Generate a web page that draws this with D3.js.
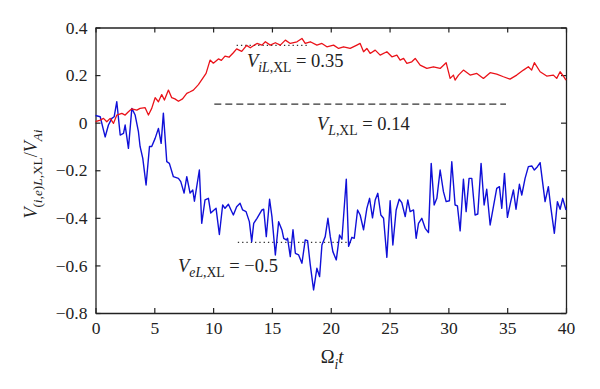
<!DOCTYPE html>
<html>
<head>
<meta charset="utf-8">
<script src="https://cdn.jsdelivr.net/npm/d3@7"></script>
<style>
  html, body { margin: 0; padding: 0; background: #fff; }
  svg { display: block; }
</style>
</head>
<body>
<svg id="chart" width="600" height="389"></svg>
<script>
// ---- data ----
const xTicks = [0, 5, 10, 15, 20, 25, 30, 35, 40];
const yTicks = [0.4, 0.2, 0, -0.2, -0.4, -0.6, -0.8];

const redTime = [0, 0.4, 0.68, 0.96, 1.25, 1.53, 1.81, 2.24, 2.52, 2.8,
  3.09, 3.51, 3.79, 4.22, 4.5, 4.78, 5.07, 5.35, 5.63, 5.86,
  6.2, 6.48, 6.75, 7.05, 7.4, 7.76, 8.05, 8.32, 8.75, 9.17,
  9.4, 9.74, 10.02, 10.45, 10.7, 11.01, 11.35, 11.72, 12.0, 12.43,
  12.85, 13.16, 13.73, 14.15, 14.44, 14.86, 15.29, 15.71, 16.14, 16.56,
  17.13, 17.55, 17.83, 18.26, 18.82, 19.25, 19.67, 20.24, 20.67, 21.09,
  21.65, 22.22, 22.5, 22.79, 23.07, 23.35, 23.78, 24.2, 24.77, 25.2,
  25.62, 25.9, 26.19, 26.47, 26.89, 27.18, 27.6, 28.17, 28.73, 29.3,
  29.81, 30.15, 30.43, 30.57, 30.86, 31.28, 31.85, 32.42, 32.98, 33.55,
  34.11, 34.68, 35.24, 35.81, 36.38, 36.8, 37.08, 37.31, 37.8, 38.36,
  38.93, 39.21, 39.5, 39.78, 40];
const redValue = [0.004, 0.011, 0.018, 0.004, 0.018, -0.003, 0.032, 0.039, 0.032, 0.046,
  0.058, 0.053, 0.06, 0.063, 0.032, 0.06, 0.105, 0.088, 0.118, 0.095,
  0.137, 0.105, 0.1, 0.09, 0.1, 0.123, 0.13, 0.137, 0.16, 0.19,
  0.207, 0.263, 0.25, 0.268, 0.262, 0.28, 0.275, 0.294, 0.31, 0.3,
  0.325, 0.315, 0.333, 0.326, 0.34, 0.326, 0.336, 0.326, 0.347, 0.333,
  0.34, 0.354, 0.333, 0.34, 0.326, 0.333, 0.319, 0.326, 0.312, 0.319,
  0.312, 0.326, 0.333, 0.298, 0.312, 0.291, 0.305, 0.284, 0.298, 0.277,
  0.284, 0.263, 0.27, 0.249, 0.256, 0.27, 0.242, 0.228, 0.235, 0.228,
  0.252, 0.186, 0.2, 0.179, 0.2, 0.221, 0.2, 0.207, 0.186, 0.21,
  0.204, 0.193, 0.183, 0.2, 0.221, 0.235, 0.221, 0.252, 0.214, 0.196,
  0.2, 0.186, 0.214, 0.196, 0.179];

const blueTime = [0, 0.4, 0.82, 1.1, 1.39, 1.59, 1.81, 2.1, 2.38, 2.52,
  2.8, 3.09, 3.37, 3.65, 3.79, 4.02, 4.3, 4.59, 4.78, 5.07,
  5.35, 5.58, 5.77, 6.06, 6.28, 6.62, 7.05, 7.25, 7.53, 7.76,
  8.04, 8.27, 8.41, 8.83, 9.03, 9.31, 9.6, 9.8, 10.08, 10.25,
  10.53, 10.81, 11.01, 11.3, 11.52, 11.72, 12.0, 12.29, 12.51, 12.8,
  13.08, 13.28, 13.45, 13.73, 14.15, 14.3, 14.52, 14.8, 15.0, 15.29,
  15.57, 15.85, 16.0, 16.22, 16.33, 16.56, 16.79, 16.99, 17.27, 17.55,
  17.83, 18.03, 18.26, 18.54, 18.82, 19.05, 19.25, 19.53, 19.76, 19.96,
  20.18, 20.47, 20.75, 20.95, 21.32, 21.52, 21.8, 22.0, 22.28, 22.5,
  22.79, 23.07, 23.3, 23.55, 23.78, 24.0, 24.26, 24.49, 24.77, 25.05,
  25.28, 25.56, 25.82, 26.04, 26.33, 26.55, 26.75, 27.04, 27.26, 27.46,
  27.74, 28.03, 28.31, 28.54, 28.79, 29.02, 29.3, 29.58, 29.81, 30.09,
  30.29, 30.57, 30.77, 31.0, 31.28, 31.51, 31.76, 31.99, 32.27, 32.5,
  32.78, 33.04, 33.26, 33.55, 33.83, 34.11, 34.34, 34.54, 34.77, 35.02,
  35.3, 35.53, 35.75, 36.04, 36.24, 36.52, 36.8, 37.09, 37.31, 37.57,
  37.8, 38.22, 38.5, 38.7, 39.01, 39.27, 39.5, 39.72, 40.0];
const blueValue = [0.03, 0.025, -0.06, -0.01, 0.018, 0.025, 0.088, -0.052, -0.045, -0.01,
  -0.108, 0.06, 0.032, -0.038, -0.1, -0.15, -0.262, -0.1, -0.1, -0.066,
  -0.024, -0.087, 0.04, -0.164, -0.171, -0.227, -0.234, -0.248, -0.296, -0.227,
  -0.296, -0.283, -0.33, -0.199, -0.423, -0.325, -0.318, -0.38, -0.367, -0.36,
  -0.47, -0.346, -0.36, -0.343, -0.367, -0.388, -0.353, -0.339, -0.367, -0.374,
  -0.416, -0.5, -0.423, -0.402, -0.367, -0.364, -0.479, -0.322, -0.395, -0.556,
  -0.416, -0.451, -0.486, -0.493, -0.486, -0.563, -0.45, -0.549, -0.556, -0.591,
  -0.493, -0.496, -0.598, -0.703, -0.612, -0.647, -0.514, -0.479, -0.402, -0.479,
  -0.542, -0.577, -0.472, -0.49, -0.238, -0.52, -0.482, -0.486, -0.367, -0.388,
  -0.45, -0.36, -0.318, -0.4, -0.325, -0.297, -0.388, -0.402, -0.566, -0.328,
  -0.514, -0.367, -0.322, -0.336, -0.395, -0.325, -0.374, -0.367, -0.486, -0.423,
  -0.402, -0.444, -0.462, -0.171, -0.346, -0.318, -0.199, -0.29, -0.332, -0.328,
  -0.164, -0.346, -0.35, -0.455, -0.238, -0.374, -0.234, -0.234, -0.388, -0.384,
  -0.171, -0.346, -0.28, -0.43, -0.353, -0.276, -0.269, -0.36, -0.213, -0.398,
  -0.332, -0.283, -0.364, -0.259, -0.304, -0.234, -0.185, -0.182, -0.199, -0.185,
  -0.168, -0.332, -0.269, -0.353, -0.465, -0.332, -0.364, -0.318, -0.367];

// reference levels
const ionLevel = { y: 0.325, from: 12.0, to: 18.2 };
const meanLevel = { y: 0.078, from: 10.1, to: 34.9 };
const eleLevel = { y: -0.503, from: 12.1, to: 21.8 };

// ---- drawing ----
const FONT = "'Liberation Serif', 'Times New Roman', serif";
const svg = d3.select("#chart");
const x = d3.scaleLinear().domain([0, 40]).range([95.5, 566]);
const y = d3.scaleLinear().domain([-0.8, 0.4]).range([313, 27.5]);
const axisColor = "#222";
const fs = 17.5;

const fmt = d => d === 0 ? "0" : d3.format(".1f")(d);

function styleAxis(g) {
  g.attr("font-family", null).attr("font-size", null);
  g.selectAll("path.domain").attr("stroke", axisColor).attr("stroke-width", 1.3);
  g.selectAll(".tick line").attr("stroke", axisColor).attr("stroke-width", 1.2);
  g.selectAll(".tick text").style("font-family", FONT).style("font-size", fs + "px")
    .attr("fill", axisColor);
}

svg.append("g").attr("transform", `translate(0,${y(-0.8)})`)
  .call(d3.axisBottom(x).tickValues(xTicks).tickSize(-5).tickSizeOuter(0).tickPadding(9))
  .call(styleAxis);
svg.append("g").attr("transform", `translate(0,${y(0.4)})`)
  .call(d3.axisTop(x).tickValues(xTicks).tickSize(-5).tickSizeOuter(0).tickFormat(""))
  .call(styleAxis);
svg.append("g").attr("transform", `translate(${x(0)},0)`)
  .call(d3.axisLeft(y).tickValues(yTicks).tickSize(-5).tickSizeOuter(0).tickPadding(8).tickFormat(fmt))
  .call(styleAxis);
svg.append("g").attr("transform", `translate(${x(40)},0)`)
  .call(d3.axisRight(y).tickValues(yTicks).tickSize(-5).tickSizeOuter(0).tickFormat(""))
  .call(styleAxis);

// reference lines
function hline(lv, dash, width) {
  svg.append("line")
    .attr("x1", x(lv.from)).attr("x2", x(lv.to))
    .attr("y1", y(lv.y)).attr("y2", y(lv.y))
    .attr("stroke", "#333").attr("stroke-width", width)
    .attr("stroke-dasharray", dash);
}
hline(ionLevel, "1.3,3", 1.2);
hline(eleLevel, "1.3,3", 1.2);
hline(meanLevel, "7,4", 1.4);

// series
const line = d3.line().x(d => x(d[0])).y(d => y(d[1]));
const redData = redTime.map((t, i) => [t, redValue[i]]);
const blueData = blueTime.map((t, i) => [t, blueValue[i]]);
svg.append("path").datum(blueData).attr("d", line)
  .attr("fill", "none").attr("stroke", "#1010d8").attr("stroke-width", 1.4)
  .attr("stroke-linejoin", "round");
svg.append("path").datum(redData).attr("d", line)
  .attr("fill", "none").attr("stroke", "#ea1219").attr("stroke-width", 1.3)
  .attr("stroke-linejoin", "round");

// rich text helper: parts = [{t, it, sub}]
function rich(sel, parts, size) {
  sel.style("font-family", FONT).style("font-size", size + "px").attr("fill", axisColor);
  const subShift = size * 0.3;
  let cur = 0;
  parts.forEach(p => {
    const target = p.sub ? subShift : 0;
    const ts = sel.append("tspan").text(p.t)
      .style("font-family", FONT)
      .style("font-size", (p.sub ? size * 0.74 : size) + "px")
      .style("font-style", p.it ? "italic" : "normal");
    if (target !== cur) ts.attr("dy", target - cur);
    cur = target;
  });
  return sel;
}

// annotations
const a1 = svg.append("text").attr("x", 247).attr("y", 66.5);
rich(a1, [{t: "V", it: 1}, {t: "iL", it: 1, sub: 1}, {t: ",XL", sub: 1}, {t: " = 0.35"}], 18.5);
const a2 = svg.append("text").attr("x", 317).attr("y", 129.5);
rich(a2, [{t: "V", it: 1}, {t: "L", it: 1, sub: 1}, {t: ",XL", sub: 1}, {t: " = 0.14"}], 18.5);
const a3 = svg.append("text").attr("x", 178).attr("y", 271.5);
rich(a3, [{t: "V", it: 1}, {t: "eL", it: 1, sub: 1}, {t: ",XL", sub: 1}, {t: " = \u22120.5"}], 18.5);

// axis titles
const xt = svg.append("text").attr("x", 332).attr("y", 363).attr("text-anchor", "middle");
rich(xt, [{t: "\u03A9"}, {t: "i", it: 1, sub: 1}, {t: "t", it: 1}], 18.5);

const yt = svg.append("text").attr("transform", "translate(37,174) rotate(-90)")
  .attr("text-anchor", "middle");
rich(yt, [{t: "V", it: 1}, {t: "(", sub: 1}, {t: "i", it: 1, sub: 1}, {t: ",", sub: 1},
  {t: "e", it: 1, sub: 1}, {t: ")", sub: 1}, {t: "L", it: 1, sub: 1}, {t: ",XL", sub: 1},
  {t: "/"}, {t: "V", it: 1}, {t: "Ai", it: 1, sub: 1}], 18);
</script>
</body>
</html>
